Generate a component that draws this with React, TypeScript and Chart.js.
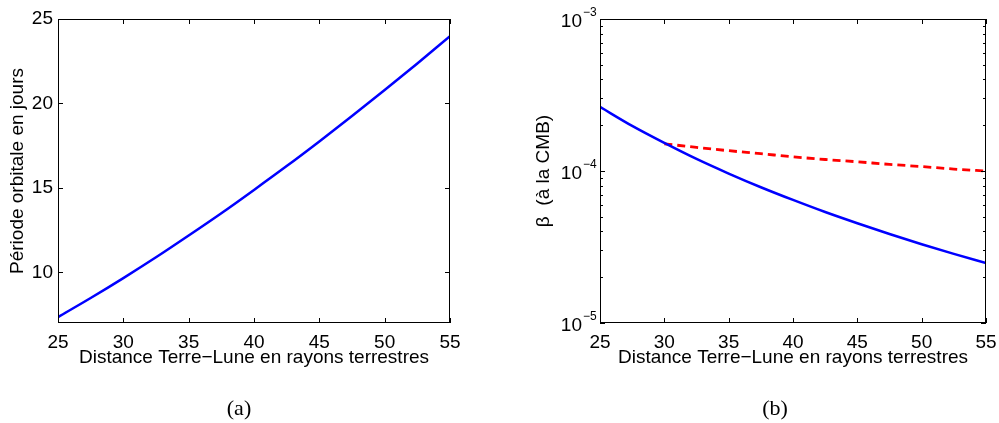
import React, { useEffect, useRef } from "react";
import { Chart, registerables } from "chart.js";
Chart.register(...registerables);

// ---------- data ----------
const distances = [25, 27.5, 30, 32.5, 35, 37.5, 40, 42.5, 45, 47.5, 50, 52.5, 55];
const periodDays = [7.35, 8.48, 9.66, 10.89, 12.18, 13.5, 14.88, 16.29, 17.75, 19.25, 20.79, 22.37, 23.98];
const betaBlue = [2.64e-4, 1.98e-4, 1.53e-4, 1.2e-4, 9.62e-5, 7.82e-5, 6.45e-5, 5.37e-5, 4.53e-5, 3.85e-5, 3.3e-5, 2.85e-5, 2.48e-5];
const redDistances = [30, 32.5, 35, 37.5, 40, 42.5, 45, 47.5, 50, 52.5, 55];
const betaRed = [1.51e-4, 1.43e-4, 1.36e-4, 1.3e-4, 1.24e-4, 1.19e-4, 1.15e-4, 1.105e-4, 1.07e-4, 1.03e-4, 1.0e-4];
const xTicks = [25, 30, 35, 40, 45, 50, 55];
const periodTicks = [10, 15, 20, 25];
const betaDecades = [1e-5, 1e-4, 1e-3];
const betaExponents = ["−5", "−4", "−3"];
const xTitle = "Distance Terre−Lune en rayons terrestres";
const periodTitle = "Période orbitale en jours";
const betaTitle = "β  (à la CMB)";
const panelLabels = ["(a)", "(b)"];

const SANS = '"Liberation Sans", Arial, Helvetica, sans-serif';
const SERIF = '"Liberation Serif", "DejaVu Serif", serif';

function toPoints(xs: number[], ys: number[]) {
  return xs.map((x, i) => ({ x, y: ys[i] }));
}

function framePlugin(kind: "lin" | "log", label: string, labelX: number) {
  return {
    id: "frame_" + kind,
    afterDraw(chart: any) {
      const { ctx, chartArea: a, scales } = chart;
      const xs = scales.x;
      const ys = scales.y;
      ctx.save();
      ctx.strokeStyle = "#000";
      ctx.lineWidth = 1;
      ctx.beginPath();
      const major = 5;
      for (const v of xTicks) {
        const px = Math.round(xs.getPixelForValue(v)) + 0.5;
        ctx.moveTo(px, a.top);
        ctx.lineTo(px, a.top + major);
        ctx.moveTo(px, a.bottom);
        ctx.lineTo(px, a.bottom - major);
      }
      if (kind === "lin") {
        for (const v of periodTicks) {
          const py = Math.round(ys.getPixelForValue(v)) + 0.5;
          ctx.moveTo(a.left, py);
          ctx.lineTo(a.left + major, py);
          ctx.moveTo(a.right, py);
          ctx.lineTo(a.right - major, py);
        }
      } else {
        for (const d of betaDecades) {
          const py = Math.round(ys.getPixelForValue(d)) + 0.5;
          ctx.moveTo(a.left, py);
          ctx.lineTo(a.left + major, py);
          ctx.moveTo(a.right, py);
          ctx.lineTo(a.right - major, py);
        }
        for (const d of betaDecades.slice(0, -1)) {
          for (let m = 2; m <= 9; m++) {
            const py = Math.round(ys.getPixelForValue(d * m)) + 0.5;
            ctx.moveTo(a.left, py);
            ctx.lineTo(a.left + 3, py);
            ctx.moveTo(a.right, py);
            ctx.lineTo(a.right - 3, py);
          }
        }
      }
      ctx.stroke();
      ctx.strokeRect(a.left + 0.5, a.top + 0.5, a.right - a.left - 1, a.bottom - a.top - 1);

      if (kind === "log") {
        ctx.fillStyle = "#000";
        betaDecades.forEach((d, i) => {
          const py = ys.getPixelForValue(d);
          ctx.font = "19px " + SANS;
          ctx.textAlign = "right";
          ctx.textBaseline = "alphabetic";
          ctx.fillText("10", a.left - 18, py + 8);
          ctx.font = "12px " + SANS;
          ctx.textAlign = "left";
          ctx.fillText(betaExponents[i], a.left - 17, py - 3);
        });
      }

      ctx.fillStyle = "#000";
      ctx.font = "22px " + SERIF;
      ctx.textAlign = "center";
      ctx.textBaseline = "middle";
      ctx.fillText(label, labelX, 409);
      ctx.restore();
    },
  };
}

function xScaleOptions() {
  return {
    type: "linear",
    min: 25,
    max: 55,
    grid: { display: false, drawTicks: false },
    border: { display: false },
    ticks: { stepSize: 5, color: "#000", font: { family: SANS, size: 19 }, padding: 8, maxRotation: 0 },
    afterBuildTicks: (s: any) => { s.ticks = xTicks.map((v) => ({ value: v })); },
    title: { display: true, text: xTitle, color: "#000", font: { family: SANS, size: 19 }, padding: { top: 0, bottom: 54 } },
    afterFit: (s: any) => {
      s.height = 100;
      s.paddingLeft = 0;
      s.paddingRight = 0;
    },
  };
}

function LeftChart() {
  const ref = useRef<HTMLCanvasElement>(null);
  useEffect(() => {
    const chart = new Chart(ref.current!, {
      type: "line",
      data: {
        datasets: [
          {
            data: toPoints(distances, periodDays),
            borderColor: "#0000ff",
            borderWidth: 2.5,
            pointRadius: 0,
            cubicInterpolationMode: "monotone",
            fill: false,
          },
        ],
      },
      options: {
        animation: false,
        responsive: false,
        devicePixelRatio: 1,
        layout: { padding: { left: 0, top: 19, right: 50, bottom: 0 } },
        plugins: { legend: { display: false }, tooltip: { enabled: false } },
        scales: {
          x: xScaleOptions(),
          y: {
            type: "linear",
            min: 7,
            max: 25,
            grid: { display: false, drawTicks: false },
            border: { display: false },
            ticks: { color: "#000", font: { family: SANS, size: 19 }, padding: 5 },
            afterBuildTicks: (s: any) => { s.ticks = periodTicks.map((v) => ({ value: v })); },
            title: { display: true, text: periodTitle, color: "#000", font: { family: SANS, size: 19 }, padding: { top: 6, bottom: 0 } },
            afterFit: (s: any) => { s.width = 58; s.paddingTop = 0; s.paddingBottom = 0; },
          },
        },
      },
      plugins: [framePlugin("lin", panelLabels[0], 239)],
    } as any);
    return () => chart.destroy();
  }, []);
  return <canvas ref={ref} width={500} height={423} style={{ position: "absolute", left: 0, top: 0, width: 500, height: 423 }} />;
}

function RightChart() {
  const ref = useRef<HTMLCanvasElement>(null);
  useEffect(() => {
    const chart = new Chart(ref.current!, {
      type: "line",
      data: {
        datasets: [
          {
            data: toPoints(distances, betaBlue),
            borderColor: "#0000ff",
            borderWidth: 2.5,
            pointRadius: 0,
            cubicInterpolationMode: "monotone",
            fill: false,
          },
          {
            data: toPoints(redDistances, betaRed),
            borderColor: "#ff0000",
            borderWidth: 2.8,
            borderDash: [8, 5],
            pointRadius: 0,
            cubicInterpolationMode: "monotone",
            fill: false,
          },
        ],
      },
      options: {
        animation: false,
        responsive: false,
        devicePixelRatio: 1,
        layout: { padding: { left: 0, top: 19, right: 13, bottom: 0 } },
        plugins: { legend: { display: false }, tooltip: { enabled: false } },
        scales: {
          x: xScaleOptions(),
          y: {
            type: "logarithmic",
            min: 1e-5,
            max: 1e-3,
            grid: { display: false, drawTicks: false },
            border: { display: false },
            ticks: { display: false },
            title: { display: true, text: betaTitle, color: "#000", font: { family: SANS, size: 19 }, padding: { top: 32, bottom: 0 } },
            afterFit: (s: any) => { s.width = 100; s.paddingTop = 0; s.paddingBottom = 0; },
          },
        },
      },
      plugins: [framePlugin("log", panelLabels[1], 275)],
    } as any);
    return () => chart.destroy();
  }, []);
  return <canvas ref={ref} width={499} height={423} style={{ position: "absolute", left: 500, top: 0, width: 499, height: 423 }} />;
}

export default function App() {
  return (
    <div style={{ position: "absolute", left: 0, top: 0, width: 999, height: 423, background: "#fff" }}>
      <LeftChart />
      <RightChart />
    </div>
  );
}
